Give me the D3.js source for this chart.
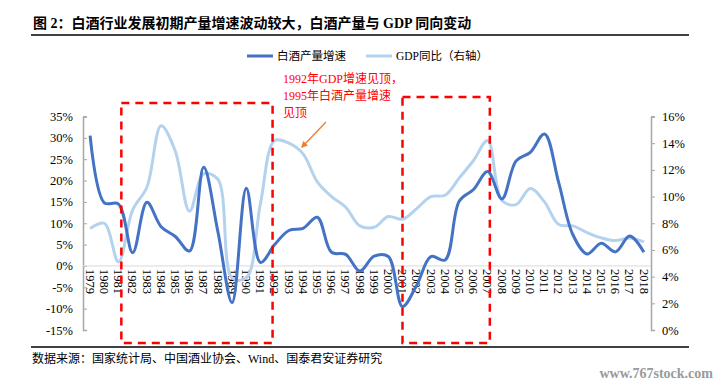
<!DOCTYPE html>
<html>
<head>
<meta charset="utf-8">
<script src="https://cdn.jsdelivr.net/npm/d3@7"></script>
<style>
  body { margin: 0; background: #fff; }
  svg { display: block; }
</style>
</head>
<body>
<main></main>
<script>
const years = d3.range(1979, 2019).map(String);
// 白酒产量增速 (%), left axis
const liquorGrowth = [30.5, 14.8, 14.5, 3.1, 14.9, 9.2, 6.9, 3.5, 23.1, 8.0,
  -8.6, 18.2, 0.8, 5.0, 8.3, 8.8, 11.4, 3.2, 2.7, -1.2,
  2.3, 2.2, -9.5, -4.5, 2.2, 1.4, 15.2, 17.9, 22.1, 15.7,
  24.6, 26.6, 30.9, 19.5, 7.3, 2.8, 5.3, 3.3, 7.0, 3.2];
// GDP同比 (%), right axis
const gdpGrowth = [7.6, 8.0, 5.1, 9.0, 10.7, 15.3, 13.4, 8.9, 11.7, 11.3,
  3.9, 3.9, 9.5, 14.2, 14.0, 13.2, 11.1, 10.0, 9.2, 7.8,
  7.7, 8.5, 8.3, 9.1, 10.0, 10.1, 11.4, 12.7, 14.2, 9.7,
  9.4, 10.6, 9.6, 7.9, 7.8, 7.3, 6.9, 6.7, 6.9, 6.6];
const leftTicks = [-15, -10, -5, 0, 5, 10, 15, 20, 25, 30, 35];
const rightTicks = [0, 2, 4, 6, 8, 10, 12, 14, 16];
// highlighted periods, as fractional years on the category axis
const boxes = [[1981.2, 1991.85], [2001, 2007.15]];

const W = 719, H = 385;
const serif = "'Liberation Serif', 'Noto Sans CJK SC', serif";
const darkBlue = "#4472C4", lightBlue = "#B4D2EE";

const svg = d3.select("main").append("svg").attr("width", W).attr("height", H);

// title
svg.append("text")
  .attr("x", 33).attr("y", 28)
  .attr("font-family", serif).attr("font-size", 14).attr("font-weight", "bold")
  .text("图 2：白酒行业发展初期产量增速波动较大，白酒产量与 GDP 同向变动");
svg.append("line").attr("x1", 31).attr("x2", 689).attr("y1", 35).attr("y2", 35)
  .attr("stroke", "#000").attr("stroke-width", 1.5);

const x = d3.scaleBand().domain(years).range([83, 651]);
const yL = d3.scaleLinear().domain([-15, 35]).range([330, 116.5]);
const yR = d3.scaleLinear().domain([0, 16]).range([330, 116.5]);
// year -> centre of its band, also for fractional years
const xYear = d3.scaleLinear().domain([1979, 2018])
  .range([x("1979") + x.bandwidth() / 2, x("2018") + x.bandwidth() / 2]);

// axes
const axisL = svg.append("g").attr("transform", "translate(83,0)")
  .call(d3.axisRight(yL).tickValues(leftTicks).tickSize(4).tickFormat(d => d + "%"));
axisL.selectAll("text").attr("x", -10).attr("text-anchor", "end");
const axisR = svg.append("g").attr("transform", "translate(651,0)")
  .call(d3.axisRight(yR).tickValues(rightTicks).tickSize(4).tickFormat(d => d + "%"));
axisR.selectAll("text").attr("x", 11);
for (const a of [axisL, axisR]) {
  a.select(".domain").attr("stroke", "#A6A6A6").attr("stroke-width", 1.5);
  a.selectAll(".tick line").attr("stroke", "#A6A6A6");
  a.selectAll("text").attr("font-family", serif).attr("font-size", 12.5).attr("fill", "#000");
}

// zero line
svg.append("line").attr("x1", 83).attr("x2", 651).attr("y1", yL(0)).attr("y2", yL(0))
  .attr("stroke", "#D9D9D9").attr("stroke-width", 1);

// year labels
svg.append("g").selectAll("text").data(years).join("text")
  .attr("transform", d => `translate(${x(d) + x.bandwidth() / 2},${yL(0) + 3}) rotate(90)`)
  .attr("dy", "0.35em")
  .attr("font-family", serif).attr("font-size", 12.5)
  .text(d => d);

// lines
const curve = d3.curveCatmullRom.alpha(0.5);
const cx = i => x(years[i]) + x.bandwidth() / 2;
svg.append("path")
  .attr("d", d3.line().x((d, i) => cx(i)).y(d => yR(d)).curve(curve)(gdpGrowth))
  .attr("fill", "none").attr("stroke", lightBlue).attr("stroke-width", 3);
svg.append("path")
  .attr("d", d3.line().x((d, i) => cx(i)).y(d => yL(d)).curve(curve)(liquorGrowth))
  .attr("fill", "none").attr("stroke", darkBlue).attr("stroke-width", 3);

// red dashed boxes
const boxTop = [103, 97];
boxes.forEach(([a, b], i) => {
  const x0 = xYear(a), x1 = xYear(b);
  svg.append("rect")
    .attr("x", x0).attr("y", boxTop[i])
    .attr("width", x1 - x0).attr("height", 343 - boxTop[i])
    .attr("fill", "none").attr("stroke", "#FF0000").attr("stroke-width", 2.5)
    .attr("stroke-dasharray", "8,6");
});

// annotation
const note = ["1992年GDP增速见顶，", "1995年白酒产量增速", "见顶"];
svg.append("g").selectAll("text").data(note).join("text")
  .attr("x", 283).attr("y", (d, i) => 83 + i * 17)
  .attr("font-family", serif).attr("font-size", 12).attr("fill", "#FF0000")
  .text(d => d);
svg.append("defs").append("marker")
  .attr("id", "arrow").attr("viewBox", "0 0 10 10")
  .attr("refX", 8).attr("refY", 5)
  .attr("markerWidth", 5).attr("markerHeight", 5)
  .attr("orient", "auto")
  .append("path").attr("d", "M0,0 L10,5 L0,10 z").attr("fill", "#ED7D31");
svg.append("line")
  .attr("x1", 326).attr("y1", 122).attr("x2", 302).attr("y2", 147)
  .attr("stroke", "#ED7D31").attr("stroke-width", 1.3)
  .attr("marker-end", "url(#arrow)");

// legend
const legend = [["白酒产量增速", darkBlue, 247], ["GDP同比（右轴）", lightBlue, 366]];
legend.forEach(([label, color, lx]) => {
  svg.append("line").attr("x1", lx).attr("x2", lx + 26).attr("y1", 56).attr("y2", 56)
    .attr("stroke", color).attr("stroke-width", 3);
  svg.append("text").attr("x", lx + 30).attr("y", 60)
    .attr("font-family", serif).attr("font-size", 11.5).text(label);
});

// bottom rule, source, watermark
svg.append("line").attr("x1", 31).attr("x2", 689).attr("y1", 347).attr("y2", 347)
  .attr("stroke", "#000").attr("stroke-width", 1.5);
svg.append("text").attr("x", 32).attr("y", 363)
  .attr("font-family", serif).attr("font-size", 12)
  .text("数据来源：国家统计局、中国酒业协会、Wind、国泰君安证券研究");
svg.append("text").attr("x", 713).attr("y", 378).attr("text-anchor", "end")
  .attr("font-family", serif).attr("font-size", 14).attr("font-weight", "bold")
  .attr("fill", "#9A9A9A").text("www.767stock.com");
</script>
</body>
</html>
